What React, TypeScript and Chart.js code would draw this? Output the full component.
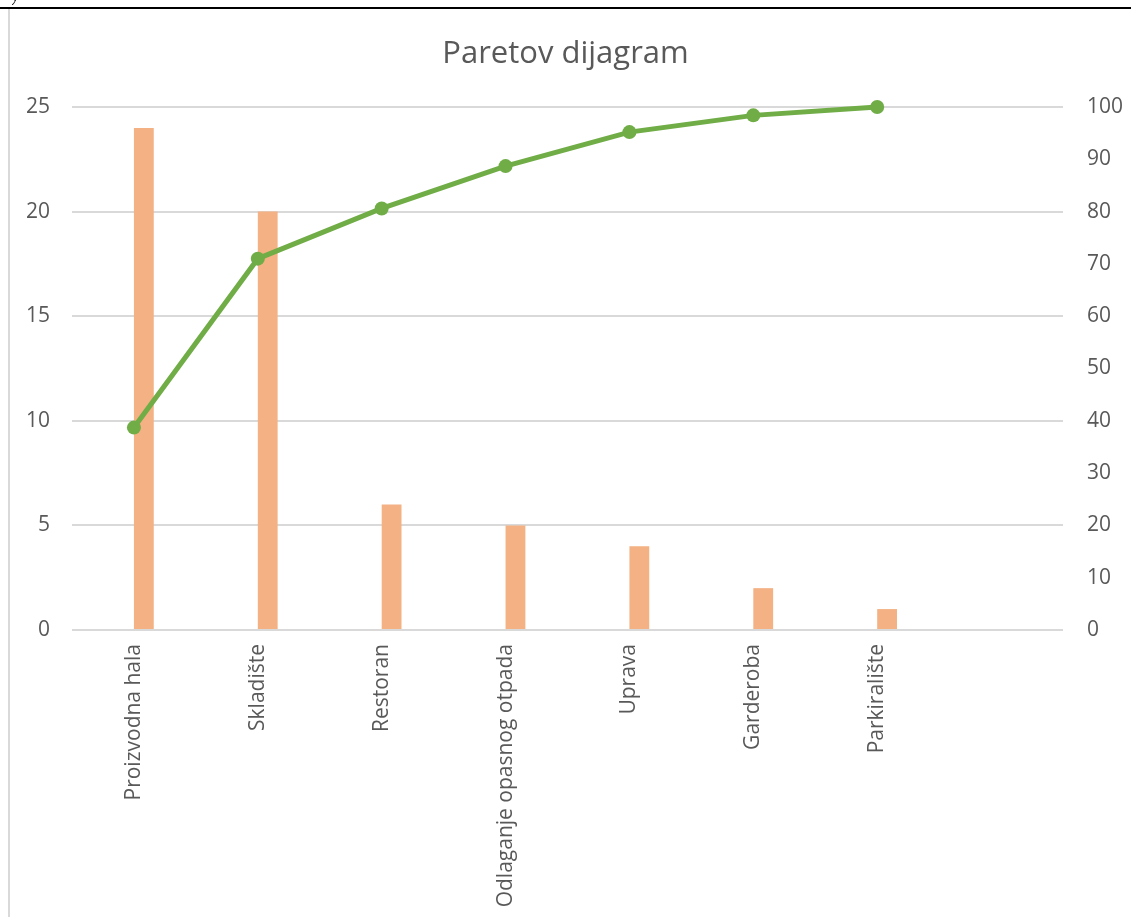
import React, { useEffect, useRef } from "react";
import { Chart, registerables } from "chart.js";

Chart.register(...registerables);

const categories = [
  "Proizvodna hala",
  "Skladište",
  "Restoran",
  "Odlaganje opasnog otpada",
  "Uprava",
  "Garderoba",
  "Parkiralište",
  "",
];
const counts = [24, 20, 6, 5, 4, 2, 1, null];
const cumulativePercent = [38.7, 71.0, 80.6, 88.7, 95.2, 98.4, 100, null];
const leftTicks = [0, 5, 10, 15, 20, 25];
const rightTicks = [0, 10, 20, 30, 40, 50, 60, 70, 80, 90, 100];

const FONT = "'Open Sans', 'Liberation Sans', sans-serif";
const TEXT = "#595959";

export default function App() {
  const ref = useRef<HTMLCanvasElement | null>(null);

  useEffect(() => {
    if (!ref.current) return;
    const chart = new Chart(ref.current, {
      type: "bar",
      data: {
        labels: categories,
        datasets: [
          {
            type: "line",
            label: "Kumulativno %",
            data: cumulativePercent,
            yAxisID: "y1",
            borderColor: "#70AD47",
            backgroundColor: "#70AD47",
            borderWidth: 5,
            pointRadius: 7,
            pointBorderWidth: 0,
            pointBackgroundColor: "#70AD47",
            tension: 0,
            clip: false,
            order: 0,
          } as any,
          {
            type: "bar",
            label: "",
            data: categories.map(() => null),
            yAxisID: "y",
            backgroundColor: "rgba(0,0,0,0)",
            order: 1,
          } as any,
          {
            type: "bar",
            label: "Broj",
            data: counts,
            yAxisID: "y",
            backgroundColor: "#F4B183",
            borderWidth: 0,
            order: 1,
          } as any,
        ],
      },
      options: {
        responsive: false,
        animation: false,
        devicePixelRatio: 1,
        datasets: {
          bar: { categoryPercentage: 0.32, barPercentage: 1.0 },
        },
        layout: { padding: { left: 0, right: 0, top: 0, bottom: 0 } },
        plugins: {
          legend: { display: false },
          tooltip: { enabled: false },
          title: {
            display: true,
            text: "Paretov dijagram",
            color: TEXT,
            font: { family: FONT, size: 31, weight: "normal", lineHeight: 1.2 },
            padding: { top: 35.5, bottom: 34.3 },
          },
        },
        scales: {
          x: {
            grid: { display: false, drawTicks: false },
            border: { display: false },
            ticks: {
              color: TEXT,
              font: { family: FONT, size: 21 },
              minRotation: 90,
              maxRotation: 90,
              padding: 14,
              autoSkip: false,
            },
            afterFit: (s: any) => {
              s.height = 287;
            },
          },
          y: {
            position: "left",
            min: 0,
            max: 25,
            afterBuildTicks: (s: any) => {
              s.ticks = leftTicks.map((v) => ({ value: v }));
            },
            grid: { color: "#d9d9d9", lineWidth: 2, drawTicks: false },
            border: { display: false },
            ticks: {
              color: TEXT,
              font: { family: FONT, size: 21 },
              padding: 22,
            },
            afterFit: (s: any) => {
              s.width = 72;
            },
          },
          y1: {
            position: "right",
            min: 0,
            max: 100,
            afterBuildTicks: (s: any) => {
              s.ticks = rightTicks.map((v) => ({ value: v }));
            },
            grid: { display: false, drawTicks: false },
            border: { display: false },
            ticks: {
              color: TEXT,
              font: { family: FONT, size: 21 },
              padding: 24,
            },
            afterFit: (s: any) => {
              s.width = 68;
            },
          },
        },
      },
    });
    return () => chart.destroy();
  }, []);

  return (
    <div
      style={{
        position: "fixed",
        left: 0,
        top: 0,
        width: 1131,
        height: 917,
        background: "#ffffff",
        overflow: "hidden",
      }}
    >
      <canvas
        ref={ref}
        width={1131}
        height={917}
        style={{ position: "absolute", left: 0, top: 0, width: 1131, height: 917 }}
      />
      <div
        style={{
          position: "absolute",
          left: 12,
          top: 0,
          height: 5,
          width: 20,
          overflow: "hidden",
        }}
      >
        <span
          style={{
            position: "absolute",
            top: -13,
            left: 0,
            fontFamily: "'Liberation Serif', serif",
            fontStyle: "italic",
            fontSize: 16,
            color: "#000",
          }}
        >
          y
        </span>
      </div>
      <div
        style={{
          position: "absolute",
          left: 0,
          top: 7,
          width: 1131,
          height: 2,
          background: "#000",
        }}
      />
      <div
        style={{
          position: "absolute",
          left: 8,
          top: 9,
          width: 2,
          height: 908,
          background: "#d9d9d9",
        }}
      />
    </div>
  );
}
